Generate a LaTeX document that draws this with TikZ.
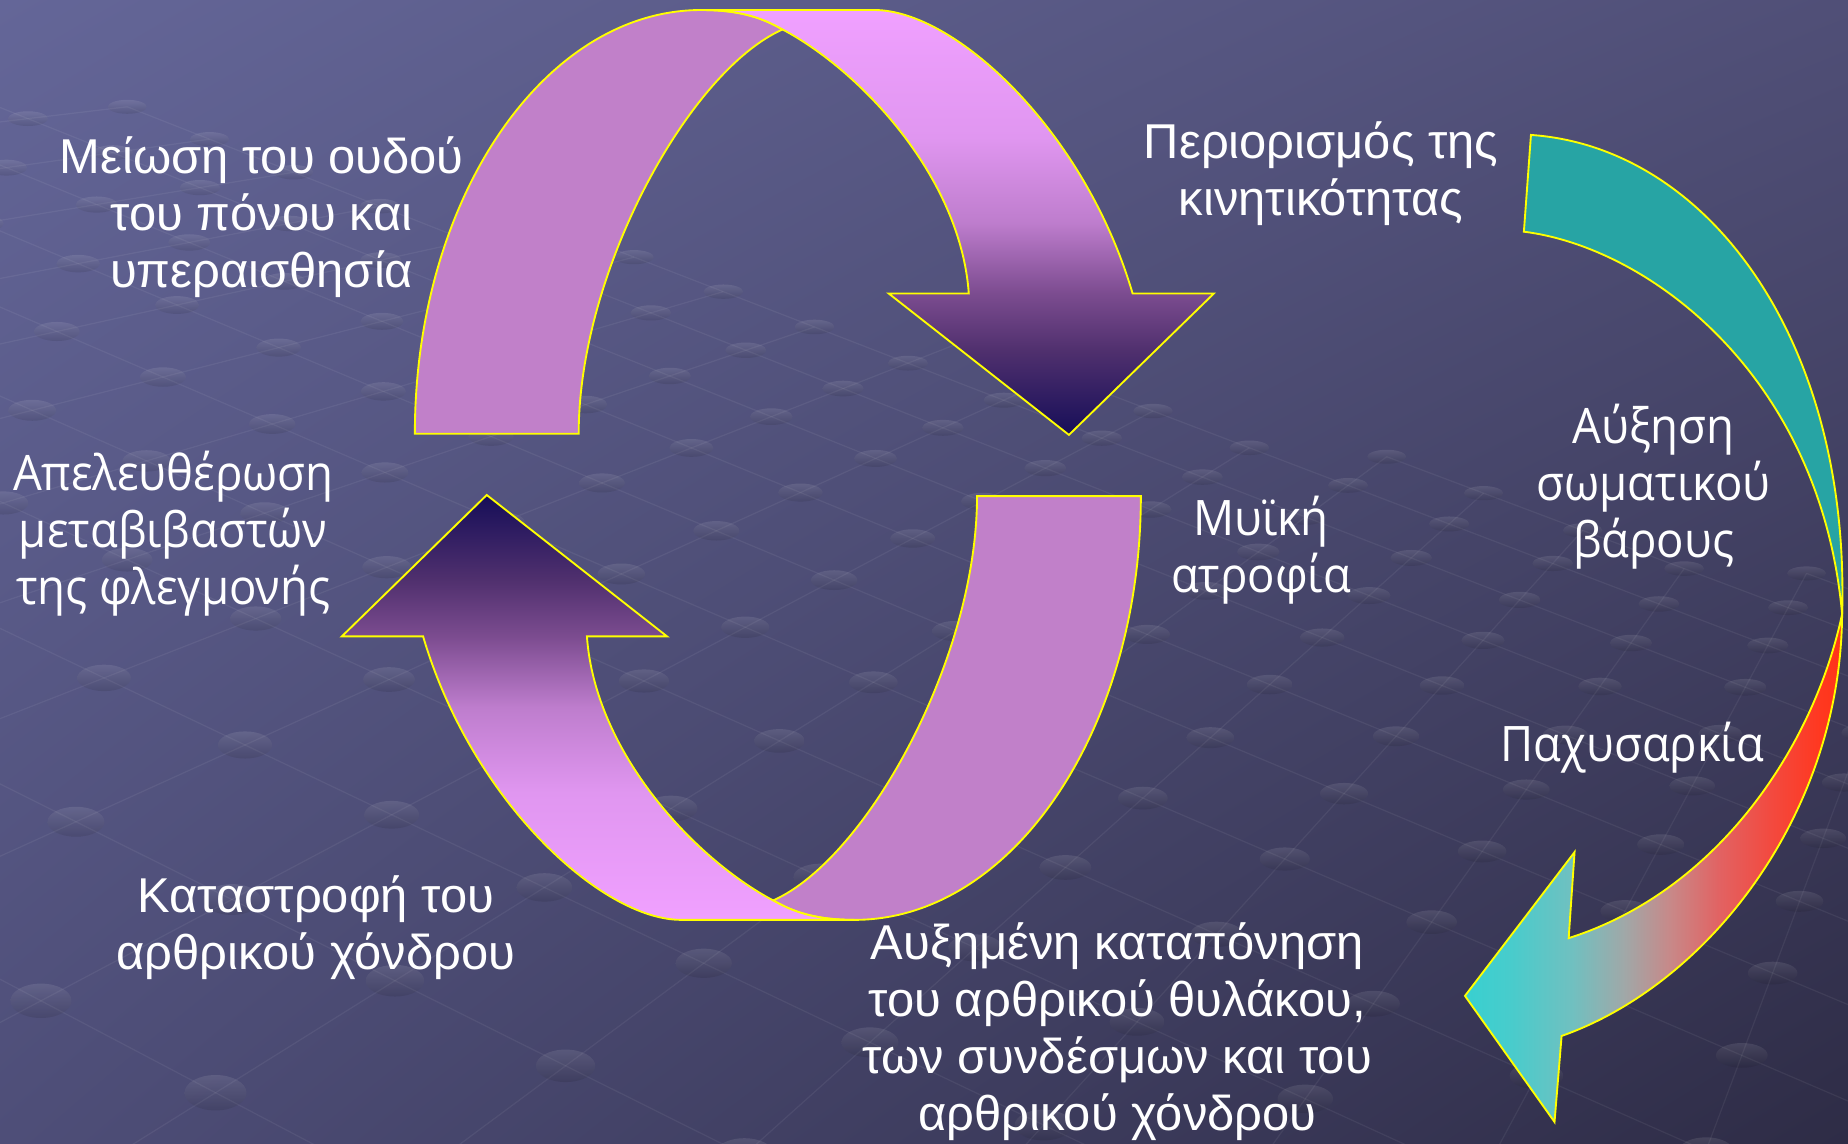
\documentclass[tikz,border=0pt]{standalone}
\usepackage{fontspec}
\usetikzlibrary{shadings}
\setmainfont{Liberation Sans}
\newfontfamily\osans[FakeStretch=0.93]{Open Sans}
\definecolor{bgTL}{HTML}{646698}
\definecolor{bgTR}{HTML}{504F77}
\definecolor{bgBL}{HTML}{4E4E78}
\definecolor{bgBR}{HTML}{2E2C46}
\definecolor{outl}{HTML}{FFFF00}
\definecolor{backband}{HTML}{C180C9}
\definecolor{tealband}{HTML}{27A4A4}
\definecolor{fg1}{HTML}{160E58}
\definecolor{fg2}{HTML}{50306E}
\definecolor{fg3}{HTML}{7C4C90}
\definecolor{fg4}{HTML}{BE7DCD}
\definecolor{fg5}{HTML}{E096F0}
\definecolor{fg6}{HTML}{F0A0FF}
\definecolor{rg1}{HTML}{38D0D0}
\definecolor{rg2}{HTML}{48CCCC}
\definecolor{rg3}{HTML}{70C0C0}
\definecolor{rg4}{HTML}{A0A8A8}
\definecolor{rg5}{HTML}{C88888}
\definecolor{rg6}{HTML}{E26262}
\definecolor{rg7}{HTML}{F24A40}
\definecolor{rg8}{HTML}{FF3820}
\definecolor{rg9}{HTML}{FF3418}
\pgfdeclareverticalshading{frontgrad}{100bp}{color(0bp)=(fg1); color(25bp)=(fg1); color(35bp)=(fg2); color(41.7bp)=(fg3); color(50bp)=(fg4); color(60bp)=(fg5); color(75bp)=(fg6); color(100bp)=(fg6)}
\pgfdeclarehorizontalshading{redgrad}{100bp}{color(0bp)=(rg1); color(25bp)=(rg1); color(31bp)=(rg2); color(39.2bp)=(rg3); color(46.1bp)=(rg4); color(52.3bp)=(rg5); color(58.8bp)=(rg6); color(65.4bp)=(rg7); color(72bp)=(rg8); color(75bp)=(rg9); color(100bp)=(rg9)}
\tikzset{
  bandline/.style={draw=outl, line width=0.45pt, line join=miter},
  lab/.style={text=white, align=center, inner sep=0pt, font=\fontsize{11.8}{13.75}\selectfont},
  labo/.style={text=white, align=center, inner sep=0pt, font=\osans\fontsize{11.8}{13.75}\selectfont},
  gridline/.style={draw=white, draw opacity=0.06, line width=0.3pt},
  griddot/.style={top color=white, bottom color=black, opacity=0.10}
}
\begin{document}
\begin{tikzpicture}[x=0.01cm,y=-0.01cm]
\useasboundingbox (0,0) rectangle (1568,970);
% background
\shade[upper left=bgTL, upper right=bgTR, lower left=bgBL, lower right=bgBR] (0,0) rectangle (1568,970);
\begin{scope}
\clip (0,0) rectangle (1568,970);
\foreach \i in {-14,...,16}{
  \foreach \j in {-12,...,6}{
    \pgfmathsetmacro\w{1-0.02*\i-0.08*\j}
    \ifdim\w pt>0.45pt \ifdim\w pt<1.75pt
      \pgfmathsetmacro\px{(117.8*\i-148.6*\j+207.9)/\w}
      \pgfmathsetmacro\py{(45.4*\i+9.4*\j+632.1)/\w}
      \ifdim\px pt>-250pt \ifdim\px pt<1850pt \ifdim\py pt>-150pt \ifdim\py pt<1150pt
        \pgfmathsetmacro\wa{\w-0.02}
        \pgfmathsetmacro\ax{(117.8*(\i+1)-148.6*\j+207.9)/\wa}
        \pgfmathsetmacro\ay{(45.4*(\i+1)+9.4*\j+632.1)/\wa}
        \pgfmathsetmacro\wb{\w-0.08}
        \pgfmathsetmacro\bx{(117.8*\i-148.6*(\j+1)+207.9)/\wb}
        \pgfmathsetmacro\by{(45.4*\i+9.4*(\j+1)+632.1)/\wb}
        \path[gridline] (\px,\py) -- (\ax,\ay);
        \path[gridline] (\px,\py) -- (\bx,\by);
        \pgfmathsetmacro\rx{23/(\w^0.6)}
        \pgfmathsetmacro\ry{11.5/(\w^1.2)}
        \shade[griddot] (\px,\py) ellipse [x radius=\rx, y radius=\ry];
      \fi\fi\fi\fi
    \fi\fi
  }
}
\end{scope}
% top arrow: back band
\path[bandline, fill=backband] (352,368) .. controls (352,170) and (461,8.5) .. (595,8.5)
  .. controls (630,8.5) and (648,16) .. (664,25)
  .. controls (585,60) and (491,230) .. (491,368) -- cycle;
% top arrow: front band
\shadedraw[bandline, shading=frontgrad] (595,8.5) -- (742,8.5)
  .. controls (810,8.5) and (920,110) .. (961,249) -- (1030,249) -- (907,369) -- (754,249) -- (822,249)
  .. controls (815,150) and (730,60) .. (664,25)
  .. controls (648,16) and (630,8.5) .. (595,8.5) -- cycle;
% bottom arrow: back band
\path[bandline, fill=backband] (968,421) .. controls (968,619) and (859,780.5) .. (725,780.5)
  .. controls (690,780.5) and (672,773) .. (656,764)
  .. controls (735,729) and (829,559) .. (829,421) -- cycle;
% bottom arrow: front band
\shadedraw[bandline, shading=frontgrad, shading angle=180] (725,780.5) -- (578,780.5)
  .. controls (510,780.5) and (400,679) .. (359,540) -- (290,540) -- (413,420) -- (566,540) -- (498,540)
  .. controls (505,639) and (590,729) .. (656,764)
  .. controls (672,773) and (690,780.5) .. (725,780.5) -- cycle;
% right arrow: teal part
\path[bandline, fill=tealband] (1299,114.5) .. controls (1450,125) and (1570,290) .. (1563,521)
  .. controls (1545,320) and (1400,210) .. (1293,196.6) -- cycle;
% right arrow: gradient part with head
\shadedraw[bandline, shading=redgrad] (1563,521) .. controls (1562,690) and (1450,835) .. (1325,879)
  -- (1319,952) -- (1243,845) -- (1336,723) -- (1331,796)
  .. controls (1460,755) and (1540,630) .. (1563,521) -- cycle;
% labels
\node[lab] (t1) at (222,184) {Μείωση του ουδού\\του πόνου και\\υπεραισθησία};
\node[labo] (t2) at (147,453) {Απελευθέρωση\\μεταβιβαστών\\της φλεγμονής};
\node[lab] (t3) at (268,787.5) {Καταστροφή του\\αρθρικού χόνδρου};
\node[lab] (t4) at (948,875) {Αυξημένη καταπόνηση\\του αρθρικού θυλάκου,\\των συνδέσμων και του\\αρθρικού χόνδρου};
\node[labo] (t5) at (1070,466.5) {Μυϊκή\\ατροφία};
\node[lab] (t6) at (1121,147) {Περιορισμός της\\κινητικότητας};
\node[labo] (t7) at (1403,413) {Αύξηση\\σωματικού\\βάρους};
\node[labo] (t8) at (1385,634) {Παχυσαρκία};
\end{tikzpicture}
\end{document}
